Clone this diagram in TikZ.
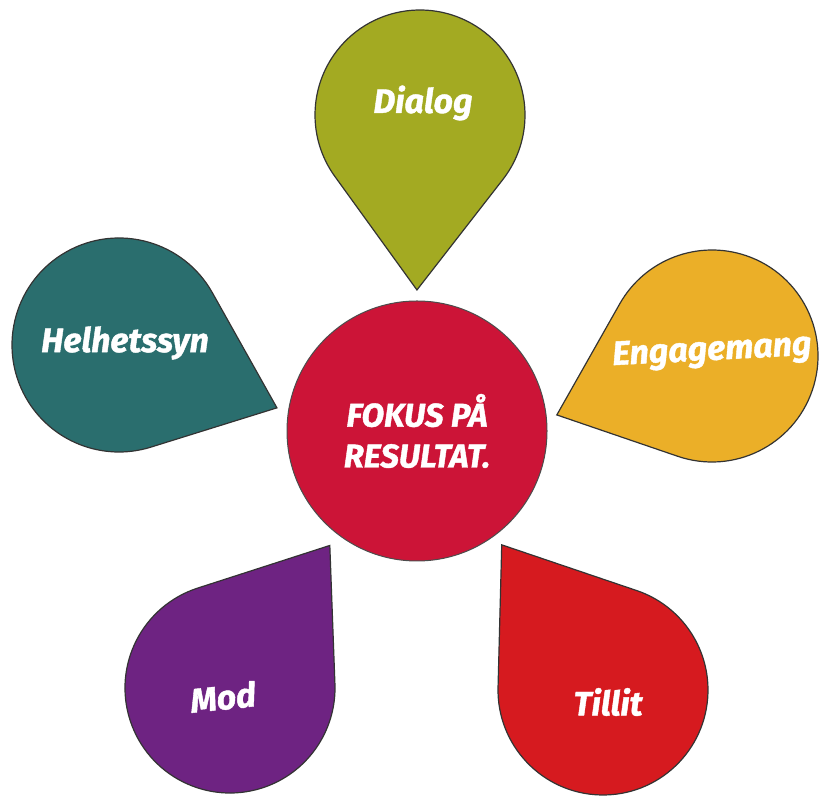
\documentclass[tikz,border=0pt]{standalone}
\usepackage{fontspec}
\setmainfont{Fira Sans}
\newfontfamily\heavyfont{Fira Sans}[BoldItalicFeatures={FakeBold=1.2}]
\definecolor{dialoggreen}{HTML}{A3AA22}
\definecolor{helhetteal}{HTML}{2A6E6E}
\definecolor{engageamber}{HTML}{EBAF28}
\definecolor{modpurple}{HTML}{6E2382}
\definecolor{tillitred}{HTML}{D61A1F}
\definecolor{fokusred}{HTML}{CC1437}
\tikzset{
  drop/.style={draw=black!80, line width=1.2bp, line join=miter},
  droptext/.style={text=white, inner sep=1bp, font=\fontsize{34}{36}\selectfont\heavyfont\bfseries\itshape},
}
% teardrop: colour, centre, direction of tip, distance to tip, radius
\newcommand{\drop}[5]{%
  \begin{scope}[shift={#2}, rotate=#3]
    \pgfmathsetmacro\tang{acos(#5/#4)}
    \filldraw[drop, fill=#1] (#4bp,0bp) -- (\tang:#5bp)
      arc[start angle=\tang, end angle=360-\tang, radius=#5bp] -- cycle;
  \end{scope}}
\begin{document}
\begin{tikzpicture}[x=1bp, y=1bp]
	\useasboundingbox (0,0) rectangle (819,796);
	\drop{dialoggreen}{(420,681)}{-91}{175}{105}
	\drop{helhetteal}{(119,451)}{-21.7}{170}{107}
	\drop{engageamber}{(712,440)}{200.8}{166}{106}
	\drop{modpurple}{(230,108)}{55}{174}{105}
	\drop{tillitred}{(603,106)}{124.9}{177}{105}
	\node[circle, minimum size=260bp, fill=fokusred, draw=black!70, line width=1bp,
	      droptext, align=center, font=\fontsize{33}{41}\selectfont\heavyfont\bfseries\itshape]
	      (fokus) at (417,365) {FOKUS PÅ\\RESULTAT.};
	\node[droptext] (dialog) at (423,693) {Dialog};
	\node[droptext] (helhet) at (125,453) {Helhetssyn};
	\node[droptext, rotate=3] (engage) at (712,444) {Engagemang};
	\node[droptext, rotate=6] (mod) at (223,99) {Mod};
	\node[droptext] (tillit) at (608,94) {Tillit};
\end{tikzpicture}
\end{document}
